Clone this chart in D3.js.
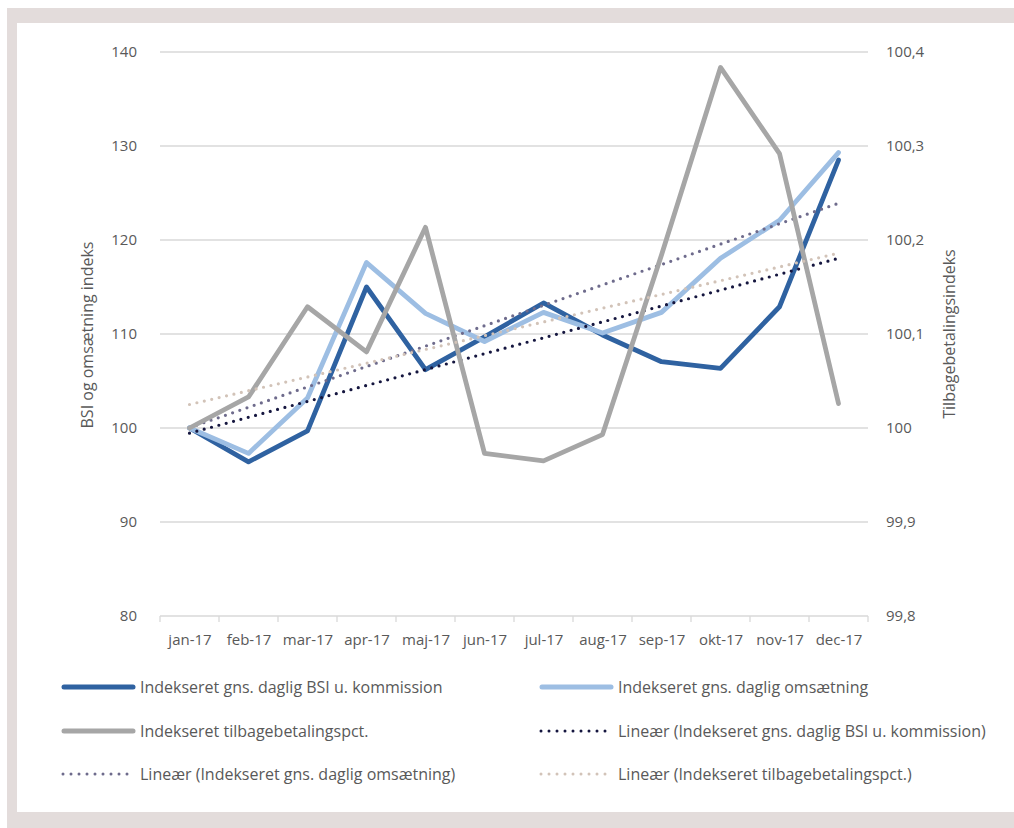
<!DOCTYPE html>
<html>
<head>
<meta charset="utf-8">
<script src="https://cdn.jsdelivr.net/npm/d3@7"></script>
<style>
  body { margin: 0; background: #fff; }
  text { font-family: "Open Sans", Lato, sans-serif; fill: #595959; }
</style>
</head>
<body>
<script>
// data
const months = ['jan-17', 'feb-17', 'mar-17', 'apr-17', 'maj-17', 'jun-17', 'jul-17', 'aug-17', 'sep-17', 'okt-17', 'nov-17', 'dec-17']
const bsi = [100, 96.4, 99.7, 115.0, 106.2, 109.7, 113.3, 109.9, 107.05, 106.35, 112.9, 128.5]
const omsaetning = [100, 97.3, 103.2, 117.6, 112.2, 109.2, 112.3, 110.1, 112.3, 118.05, 122.1, 129.3]
const tilbage = [100, 100.033, 100.129, 100.081, 100.2135, 99.973, 99.965, 99.993, 100.184, 100.3836, 100.292, 100.026]
// linear trendlines: value at jan-17 and at dec-17
const trendBsi = [99.45, 118.05]
const trendOms = [100.03, 123.9]
const trendTilbage = [100.025, 100.186]
const leftTicks = [80, 90, 100, 110, 120, 130, 140]
const rightTicks = [99.8, 99.9, 100, 100.1, 100.2, 100.3, 100.4]

const W = 1014
const H = 828
const plotTop = 52
const plotBottom = 616
const plotLeft = 160
const plotRight = 868

const svg = d3.select('body').append('svg')
  .attr('width', W)
  .attr('height', H)

// frame
svg.append('rect').attr('x', 7).attr('y', 8).attr('width', W).attr('height', H).attr('fill', '#e3dcdb')
svg.append('rect').attr('x', 17).attr('y', 23).attr('width', W).attr('height', 812 - 23).attr('fill', '#fff')

const xBand = d3.scaleBand().domain(months).range([plotLeft, plotRight])
const x = d3.scalePoint().domain(months).range([plotLeft, plotRight]).padding(0.5)
const y = d3.scaleLinear().domain([80, 140]).range([plotBottom, plotTop])
const y2 = d3.scaleLinear().domain([99.8, 100.4]).range([plotBottom, plotTop])

// gridlines
svg.append('g')
  .selectAll('line')
  .data(leftTicks.slice(1))
  .join('line')
  .attr('x1', plotLeft).attr('x2', plotRight)
  .attr('y1', d => y(d)).attr('y2', d => y(d))
  .attr('stroke', '#d9d9d9').attr('stroke-width', 1.3)

// left axis labels
const yAxis = d3.axisLeft(y).tickValues(leftTicks).tickSize(0).tickPadding(23)
const gy = svg.append('g').attr('transform', `translate(${plotLeft}, 0)`).call(yAxis)
gy.select('.domain').remove()
gy.selectAll('text').style('font-size', '15px').attr('fill', '#595959')

// right axis labels
const y2Axis = d3.axisRight(y2).tickValues(rightTicks).tickSize(0).tickPadding(18)
  .tickFormat(d => d3.format('.1f')(d).replace('.0', '').replace('.', ','))
const gy2 = svg.append('g').attr('transform', `translate(${plotRight}, 0)`).call(y2Axis)
gy2.select('.domain').remove()
gy2.selectAll('text').style('font-size', '15px').attr('fill', '#595959')

// x axis
svg.append('line')
  .attr('x1', plotLeft).attr('x2', plotRight)
  .attr('y1', plotBottom).attr('y2', plotBottom)
  .attr('stroke', '#d9d9d9').attr('stroke-width', 1.3)
svg.append('g')
  .selectAll('line')
  .data(months.map(m => xBand(m)).concat([plotRight]))
  .join('line')
  .attr('x1', d => d).attr('x2', d => d)
  .attr('y1', plotBottom).attr('y2', plotBottom + 6)
  .attr('stroke', '#d9d9d9').attr('stroke-width', 1.3)
const xAxis = d3.axisBottom(x).tickSize(0).tickPadding(18)
const gx = svg.append('g').attr('transform', `translate(0, ${plotBottom})`).call(xAxis)
gx.select('.domain').remove()
gx.selectAll('text').style('font-size', '15px').attr('fill', '#595959')

// axis titles
svg.append('text')
  .attr('transform', 'translate(93, 335) rotate(-90)')
  .attr('text-anchor', 'middle')
  .style('font-size', '16px')
  .text('BSI og omsætning indeks')
svg.append('text')
  .attr('transform', 'translate(955, 334) rotate(-90)')
  .attr('text-anchor', 'middle')
  .style('font-size', '16px')
  .text('Tilbagebetalingsindeks')

const line1 = d3.line().x((d, i) => x(months[i])).y(d => y(d))
const line2 = d3.line().x((d, i) => x(months[i])).y(d => y2(d))
const trendX = [x(months[0]), x(months[months.length - 1])]

function drawLine (vals, fn, color) {
  svg.append('path')
    .attr('d', fn(vals))
    .attr('fill', 'none')
    .attr('stroke', color)
    .attr('stroke-width', 4.8)
    .attr('stroke-linejoin', 'round')
    .attr('stroke-linecap', 'round')
}

function drawTrend (ends, scale, color) {
  svg.append('line')
    .attr('x1', trendX[0]).attr('x2', trendX[1])
    .attr('y1', scale(ends[0])).attr('y2', scale(ends[1]))
    .attr('stroke', color)
    .attr('stroke-width', 3.2)
    .attr('stroke-linecap', 'round')
    .attr('stroke-dasharray', '0 7.6')
}

drawLine(bsi, line1, '#2f62a1')
drawLine(omsaetning, line1, '#9dbee3')
drawTrend(trendBsi, y, '#15163f')
drawTrend(trendOms, y, '#6e6b8c')
drawLine(tilbage, line2, '#a6a6a6')
drawTrend(trendTilbage, y2, '#d2c3b8')

// legend
const legend = [
  { name: 'Indekseret gns. daglig BSI u. kommission', color: '#2f62a1', dotted: false },
  { name: 'Indekseret gns. daglig omsætning', color: '#9dbee3', dotted: false },
  { name: 'Indekseret tilbagebetalingspct.', color: '#a6a6a6', dotted: false },
  { name: 'Lineær (Indekseret gns. daglig BSI u. kommission)', color: '#15163f', dotted: true },
  { name: 'Lineær (Indekseret gns. daglig omsætning)', color: '#6e6b8c', dotted: true },
  { name: 'Lineær (Indekseret tilbagebetalingspct.)', color: '#d2c3b8', dotted: true }
]
const colX = [62, 540]
const rowY = [687, 731, 774]

const lg = svg.append('g')
  .selectAll('g')
  .data(legend)
  .join('g')
  .attr('transform', (d, i) => `translate(${colX[i % 2]}, ${rowY[Math.floor(i / 2)]})`)

lg.append('line')
  .attr('x1', d => d.dotted ? 1 : 2).attr('x2', 71)
  .attr('y1', 0).attr('y2', 0)
  .attr('stroke', d => d.color)
  .attr('stroke-width', d => d.dotted ? 3 : 5)
  .attr('stroke-linecap', 'round')
  .attr('stroke-dasharray', d => d.dotted ? '0 8' : null)

lg.append('text')
  .attr('x', 78)
  .attr('dy', '0.35em')
  .style('font-size', '16px')
  .text(d => d.name)
</script>
</body>
</html>
